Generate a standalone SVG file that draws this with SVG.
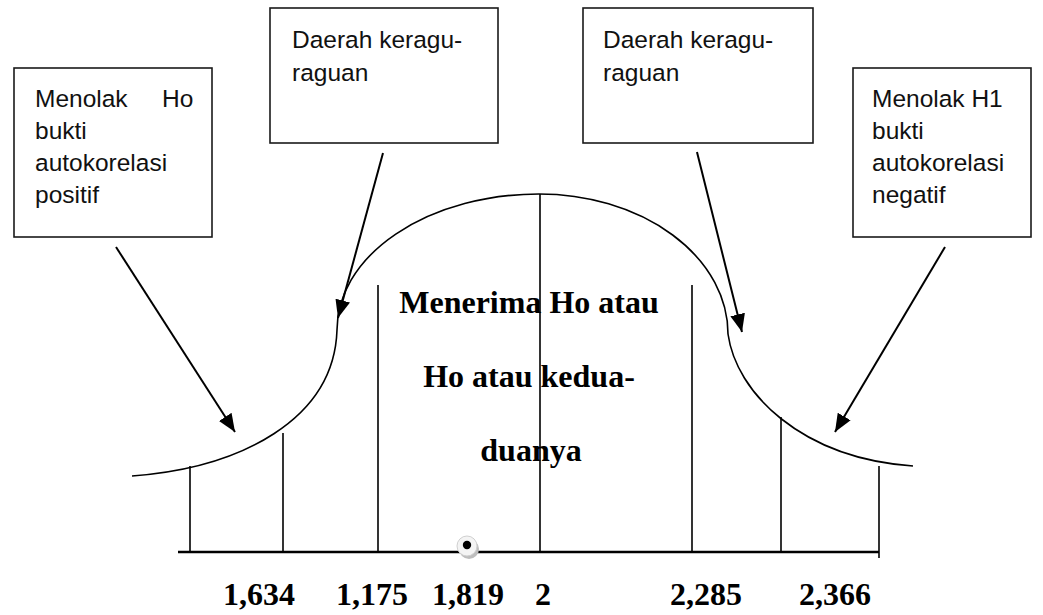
<svg xmlns="http://www.w3.org/2000/svg" width="1043" height="615" viewBox="0 0 1043 615">
  <defs>
    <style>
      .box { fill: #ffffff; stroke: #1a1a1a; stroke-width: 1.6; }
      .note { font-family: "Liberation Sans", Arial, sans-serif; font-size: 24.5px; fill: #111; }
      .bold { font-family: "Liberation Serif", "Times New Roman", serif; font-weight: bold; font-size: 32px; fill: #000; }
      .line { stroke: #000; stroke-width: 1.6; fill: none; stroke-linejoin: round; }
      .axis { stroke: #000; stroke-width: 2.6; fill: none; }
      .arrow { stroke: #000; stroke-width: 2; fill: none; marker-end: url(#head); }
    </style>
    <marker id="head" markerUnits="userSpaceOnUse" markerWidth="19" markerHeight="15" refX="18" refY="7.5" orient="auto">
      <path d="M0,0 L18,7.5 L0,15 Z" fill="#000"/>
    </marker>
  </defs>

  <rect width="1043" height="615" fill="#ffffff"/>

  <!-- bell-shaped distribution curve, drawn as one continuous path -->
  <g id="curve">
    <path class="line" d="M132,476 C240,468 334,420 337,330 A202,136 0 0 1 539,194 A189,140 0 0 1 728,334 C736,392 800,458 913,466"/>
  </g>

  <!-- axis and region boundaries -->
  <g id="axis">
    <line class="axis" x1="178" y1="552" x2="879" y2="552"/>
    <line class="line" x1="190" y1="466" x2="190" y2="552"/>
    <line class="line" x1="283" y1="433" x2="283" y2="552"/>
    <line class="line" x1="378" y1="285" x2="378" y2="552"/>
    <line class="line" x1="540" y1="194" x2="540" y2="552"/>
    <line class="line" x1="692" y1="285" x2="692" y2="552"/>
    <line class="line" x1="781" y1="417" x2="781" y2="552"/>
    <line class="line" x1="879" y1="466" x2="879" y2="558"/>
  </g>

  <!-- d statistic marker -->
  <g id="marker-point">
    <circle cx="469" cy="549" r="10" fill="#bdbdbd"/>
    <circle cx="467" cy="546" r="10" fill="#f4f4f4" stroke="#d0d0d0" stroke-width="1"/>
    <circle cx="467" cy="545" r="4.2" fill="#000"/>
  </g>

  <!-- region note boxes -->
  <g id="box-reject-ho">
    <rect class="box" x="14" y="68" width="198" height="169"/>
    <text class="note" x="35" y="107">Menolak</text>
    <text class="note" x="162" y="107">Ho</text>
    <text class="note" x="35" y="139">bukti</text>
    <text class="note" x="35" y="171">autokorelasi</text>
    <text class="note" x="35" y="203">positif</text>
  </g>

  <g id="box-doubt-left">
    <rect class="box" x="270" y="8" width="228" height="135"/>
    <text class="note" x="292" y="48">Daerah keragu-</text>
    <text class="note" x="292" y="81">raguan</text>
  </g>

  <g id="box-doubt-right">
    <rect class="box" x="583" y="8" width="230" height="135"/>
    <text class="note" x="603" y="48">Daerah keragu-</text>
    <text class="note" x="603" y="81">raguan</text>
  </g>

  <g id="box-reject-h1">
    <rect class="box" x="853" y="68" width="178" height="169"/>
    <text class="note" x="872" y="107">Menolak H1</text>
    <text class="note" x="872" y="139">bukti</text>
    <text class="note" x="872" y="171">autokorelasi</text>
    <text class="note" x="872" y="203">negatif</text>
  </g>

  <!-- central acceptance label -->
  <g id="accept-label">
    <text class="bold" x="529" y="313" text-anchor="middle">Menerima Ho atau</text>
    <text class="bold" x="529" y="387" text-anchor="middle">Ho atau kedua-</text>
    <text class="bold" x="531" y="461" text-anchor="middle">duanya</text>
  </g>

  <!-- connectors -->
  <g id="connectors">
    <line class="arrow" x1="116" y1="247" x2="235" y2="432"/>
    <line class="arrow" x1="383" y1="153" x2="338" y2="318"/>
    <line class="arrow" x1="697" y1="152" x2="742" y2="332"/>
    <line class="arrow" x1="945" y1="247" x2="835" y2="432"/>
  </g>

  <!-- axis values -->
  <g id="values">
    <text class="bold" x="223" y="605">1,634</text>
    <text class="bold" x="336" y="605">1,175</text>
    <text class="bold" x="432" y="605">1,819</text>
    <text class="bold" x="535" y="605">2</text>
    <text class="bold" x="670" y="605">2,285</text>
    <text class="bold" x="799" y="605">2,366</text>
  </g>
</svg>
